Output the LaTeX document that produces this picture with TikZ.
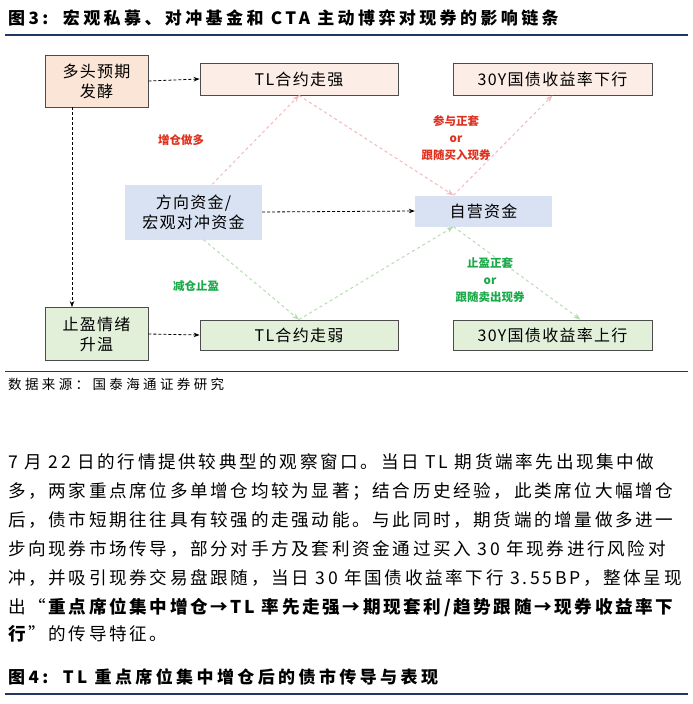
\documentclass[tikz,border=0pt]{standalone}
\usepackage{fontspec}
\setmainfont{Liberation Serif}
\newfontfamily\cjk{Noto Sans CJK SC}
\newfontfamily\cjkp[LetterSpace=15]{Noto Sans CJK SC}
\newfontfamily\cjkt[LetterSpace=20]{Noto Sans CJK SC}
\newfontfamily\cjks[LetterSpace=25]{Noto Sans CJK SC}
\newfontfamily\cjkb[LetterSpace=8]{Noto Sans CJK SC}
\usetikzlibrary{arrows.meta}
\definecolor{navy}{HTML}{1F3864}
\definecolor{peach}{HTML}{FBE5D6}
\definecolor{lpink}{HTML}{FCEDE6}
\definecolor{lblue}{HTML}{D9E2F3}
\definecolor{lgreen}{HTML}{E2F0D9}
\definecolor{rtxt}{HTML}{E0301E}
\definecolor{gtxt}{HTML}{1AAA4A}
\definecolor{parr}{HTML}{F4B8B8}
\definecolor{garr}{HTML}{B5DDB0}
\begin{document}
\begin{tikzpicture}[x=1pt,y=-1pt,
  box/.style={draw=black!70,line width=0.8pt,inner sep=0pt,font=\cjkb\fontsize{16}{20}\selectfont,align=center},
  fbox/.style={inner sep=0pt,font=\cjkb\fontsize{16}{20}\selectfont,align=center},
  da/.style={densely dashed,line width=0.8pt,-{Stealth[length=6pt]}},
  pa/.style={dashed,parr,line width=1pt,-{Stealth[length=7pt]}},
  ga/.style={dashed,garr,line width=1pt,-{Stealth[length=7pt]}},
  lab/.style={font=\cjk\bfseries\fontsize{11.5}{17}\selectfont,align=center},
  para/.style={anchor=west,inner sep=0pt,font=\cjkp\fontsize{17.6}{20}\selectfont}]
\useasboundingbox (0,0) rectangle (693,704);
\node[anchor=west,inner sep=0pt,font=\cjkt\bfseries\fontsize{17}{20}\selectfont] (t1) at (8,18) {图3:\ \ 宏观私募、对冲基金和 CTA 主动博弈对现券的影响链条};
\draw[navy,line width=1.5pt] (5,35) -- (688,35);
\node[box,fill=peach,minimum width=103pt,minimum height=52pt] (a) at (96.5,81) {多头预期\\发酵};
\node[box,fill=lpink,minimum width=198pt,minimum height=32pt] (b) at (299,79) {TL合约走强};
\node[box,fill=lpink,minimum width=199pt,minimum height=32pt] (c) at (552.5,79) {30Y国债收益率下行};
\node[fbox,fill=lblue,minimum width=137pt,minimum height=55pt] (d) at (193.5,212) {方向资金/\\宏观对冲资金};
\node[fbox,fill=lblue,minimum width=137pt,minimum height=31pt] (e) at (483.5,211) {自营资金};
\node[box,fill=lgreen,minimum width=103pt,minimum height=53pt] (f) at (96.5,334) {止盈情绪\\升温};
\node[box,fill=lgreen,minimum width=198pt,minimum height=30pt] (g) at (299,335) {TL合约走弱};
\node[box,fill=lgreen,minimum width=199pt,minimum height=30pt] (h) at (552.5,335) {30Y国债收益率上行};
\draw[da] (a.east) -- (b.west);
\draw[da] (a.south -| 72,0) -- (f.north -| 72,0);
\draw[da] (f.east) -- (g.west);
\draw[da] (d.east) -- (e.west);
\draw[pa] (d.north east) ++(-50,0) -- ([xshift=0pt]b.south);
\draw[pa] (b.south) -- ([xshift=-30pt]e.north);
\draw[pa] ([xshift=-30pt]e.north) -- ([xshift=0pt]c.south);
\draw[ga] ([xshift=10pt]d.south) -- (g.north);
\draw[ga] (g.north) -- ([xshift=-30pt]e.south);
\draw[ga] ([xshift=-30pt]e.south) -- ([xshift=28pt]c.south |- h.north);
\node[lab,text=rtxt] (l1) at (181,140) {增仓做多};
\node[lab,text=rtxt] (l2) at (456,138) {参与正套\\or\\跟随买入现券};
\node[lab,text=gtxt] (l3) at (196,286) {减仓止盈};
\node[lab,text=gtxt] (l4) at (490,280) {止盈正套\\or\\跟随卖出现券};
\draw[navy,line width=1pt] (5,371) -- (688,371);
\node[anchor=west,inner sep=0pt,font=\cjks\fontsize{13.5}{15}\selectfont] (src) at (8,384) {数据来源：国泰海通证券研究};
\node[para] (p1) at (8,462) {7 月 22 日的行情提供较典型的观察窗口。当日 TL 期货端率先出现集中做};
\node[para] (p2) at (8,491) {多，两家重点席位多单增仓均较为显著；结合历史经验，此类席位大幅增仓};
\node[para] (p3) at (8,520) {后，债市短期往往具有较强的走强动能。与此同时，期货端的增量做多进一};
\node[para] (p4) at (8,549) {步向现券市场传导，部分对手方及套利资金通过买入 30 年现券进行风险对};
\node[para] (p5) at (8,578) {冲，并吸引现券交易盘跟随，当日 30 年国债收益率下行 3.55BP，整体呈现};
\node[para] (p6) at (8,607) {出“\textbf{重点席位集中增仓→TL 率先走强→期现套利/趋势跟随→现券收益率下}};
\node[para] (p7) at (8,634) {\textbf{行}”的传导特征。};
\node[anchor=west,inner sep=0pt,font=\cjkt\bfseries\fontsize{17}{20}\selectfont] (t2) at (8,677) {图4:\ \ TL 重点席位集中增仓后的债市传导与表现};
\draw[navy,line width=1.5pt] (5,694) -- (688,694);
\end{tikzpicture}
\end{document}
